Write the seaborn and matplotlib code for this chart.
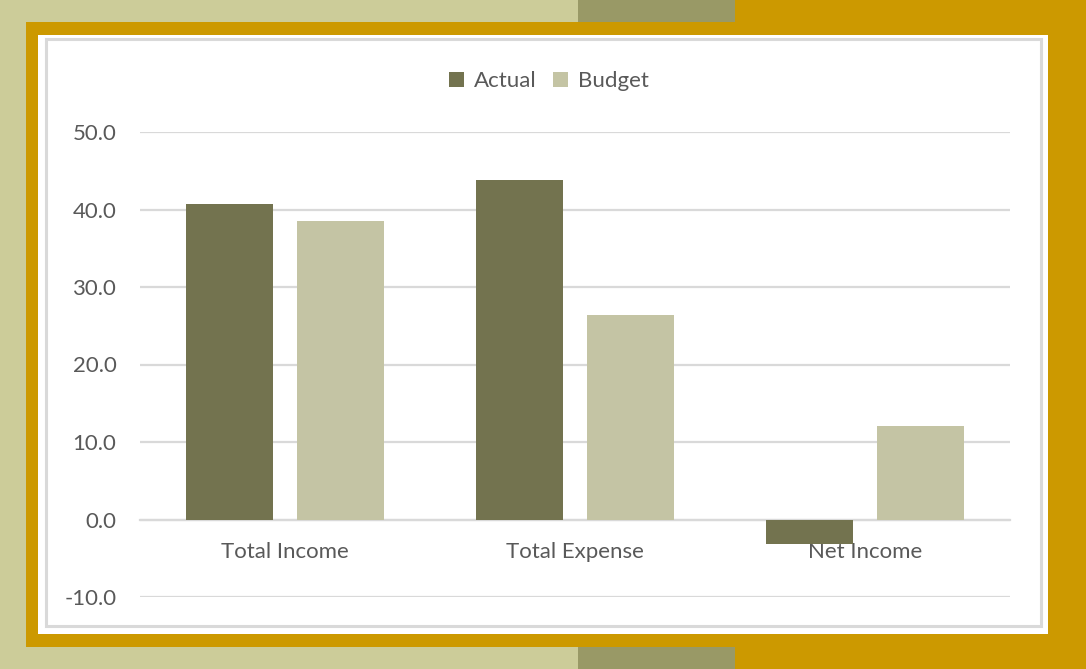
import matplotlib
matplotlib.use("Agg")
import matplotlib.pyplot as plt
from matplotlib.patches import Rectangle
import seaborn as sns
import pandas as pd

categories = ["Total Income", "Total Expense", "Net Income"]
actual = [40.7, 43.8, -3.1]
budget = [38.5, 26.4, 12.1]
series_names = ["Actual", "Budget"]
y_ticks = [-10, 0, 10, 20, 30, 40, 50]

colors = {"Actual": "#73734F", "Budget": "#C4C4A4"}

df = pd.DataFrame({
    "category": categories * 2,
    "series": [series_names[0]] * 3 + [series_names[1]] * 3,
    "value": actual + budget,
})

sns.set_theme(style="white")
plt.rcParams["font.family"] = ["Lato", "DejaVu Sans"]

W, H = 1086, 669
fig = plt.figure(figsize=(W / 100, H / 100), dpi=100)

# decorative frame (figure-pixel rectangles)
def frect(x0, y0, x1, y1, color, z):
    fig.patches.append(Rectangle((x0 / W, 1 - y1 / H), (x1 - x0) / W, (y1 - y0) / H,
                                 transform=fig.transFigure, facecolor=color,
                                 edgecolor="none", zorder=z))

frect(0, 0, 578, H, "#CCCC99", 0)
frect(578, 0, 735, H, "#999966", 0)
frect(735, 0, W, H, "#CC9900", 0)
frect(26, 22, W, 647, "#CC9900", 1)
frect(38, 35, 1048, 634, "#FFFFFF", 2)
fig.patches.append(Rectangle((46 / W, 1 - 626 / H), (1041 - 46) / W, (626 - 39) / H,
                             transform=fig.transFigure, facecolor="none",
                             edgecolor="#D9D9D9", linewidth=2.2, zorder=3))

ax = fig.add_axes([140 / W, 1 - 597 / H, (1010 - 140) / W, (597 - 132) / H])
ax.set_zorder(5)
ax.patch.set_alpha(0)

sns.barplot(data=df, x="category", y="value", hue="series", palette=colors,
            width=0.76, gap=0.21, ax=ax, legend=True, saturation=1, zorder=3,
            linewidth=0, edgecolor="none")

ax.set_ylim(-10, 50)
ax.set_yticks(y_ticks)
ax.set_yticklabels([f"{v:.1f}" for v in y_ticks])
ax.yaxis.grid(True, color="#D9D9D9", linewidth=1.6, zorder=0)
ax.set_axisbelow(True)
ax.set_xlabel("")
ax.set_ylabel("")
for s in ["top", "right", "left"]:
    ax.spines[s].set_visible(False)
ax.spines["bottom"].set_position(("data", 0))
ax.spines["bottom"].set_color("#D9D9D9")
ax.spines["bottom"].set_linewidth(1.6)
ax.tick_params(axis="x", length=0, pad=16, labelsize=16, labelcolor="#595959")
ax.tick_params(axis="y", length=0, pad=17, labelsize=16, labelcolor="#595959")

leg = ax.legend(loc="lower center", bbox_to_anchor=(0.47, 1.045), ncol=2, frameon=False,
                fontsize=16, handlelength=0.65, handleheight=0.65, handletextpad=0.45,
                columnspacing=0.75, labelcolor="#595959")

fig.savefig("out.png", dpi=100)
